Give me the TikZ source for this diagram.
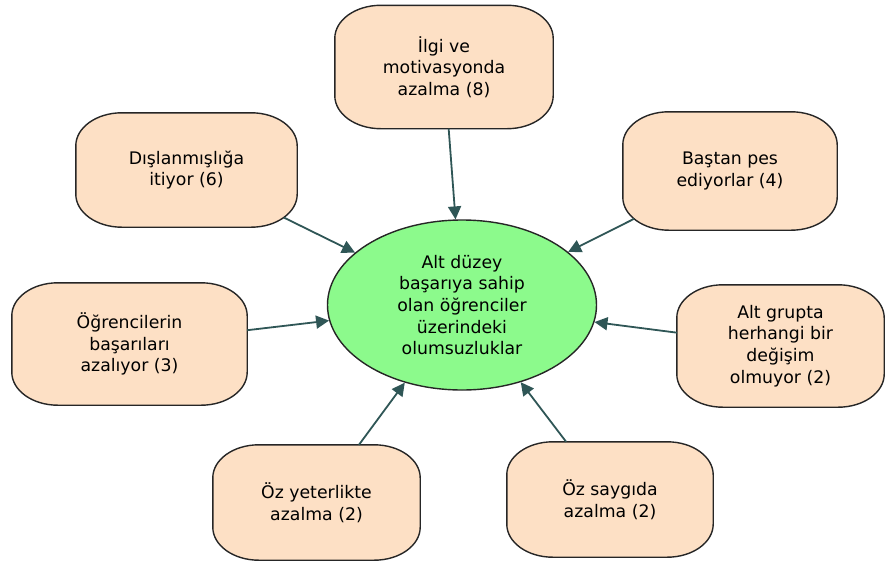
\documentclass[tikz,border=0pt]{standalone}
\usepackage{fontspec}
\setmainfont{DejaVu Sans}
\usetikzlibrary{shapes.geometric,arrows.meta,backgrounds}
\definecolor{boxfill}{RGB}{253,224,197}
\definecolor{ellfill}{RGB}{140,250,140}
\definecolor{arrowcol}{RGB}{47,86,86}
\tikzset{
  causetext/.style={draw=none, fill=none, inner sep=0pt, align=center,
    font=\fontsize{17.3}{21.7}\selectfont},
  causeshape/.style={draw=black!85, line width=1.4pt, fill=boxfill},
  centre/.style={ellipse, draw=black!85, line width=1.4pt, fill=ellfill, inner sep=0pt,
    minimum width=269pt, minimum height=170pt, align=center, font=\fontsize{17.3}{21.7}\selectfont},
  link/.style={draw=arrowcol, line width=1.8pt, -{Triangle[length=13pt,width=13pt]}}
}
% name, x, y, width, height, text
\newcommand{\causebox}[6]{%
  \node[causetext, minimum width=#4, minimum height=#5] (#1) at (#2,#3) {#6};
  \begin{scope}[on background layer]
    \path[causeshape] ([xshift=46pt]#1.north west) -- ([xshift=-46pt]#1.north east)
      arc[start angle=90, end angle=0, x radius=46pt, y radius=33pt]
      -- ([yshift=33pt]#1.south east)
      arc[start angle=0, end angle=-90, x radius=46pt, y radius=33pt]
      -- ([xshift=46pt]#1.south west)
      arc[start angle=270, end angle=180, x radius=46pt, y radius=33pt]
      -- ([yshift=-33pt]#1.north west)
      arc[start angle=180, end angle=90, x radius=46pt, y radius=33pt]
      -- cycle;
  \end{scope}}
\begin{document}
\begin{tikzpicture}[x=1pt,y=-1pt]
\useasboundingbox (0,0) rectangle (886,565);
\node[centre] (c) at (462,305) {Alt düzey\\başarıya sahip\\olan öğrenciler\\üzerindeki\\olumsuzluklar};
\causebox{top}{444}{67}{218pt}{123pt}{İlgi ve\\motivasyonda\\azalma (8)}
\causebox{tl}{186.5}{170}{221pt}{114pt}{Dışlanmışlığa\\itiyor (6)}
\causebox{tr}{730}{171}{214pt}{118pt}{Baştan pes\\ediyorlar (4)}
\causebox{l}{129.5}{344}{235pt}{122pt}{Öğrencilerin\\başarıları\\azalıyor (3)}
\causebox{r}{780.5}{346}{207pt}{122pt}{Alt grupta\\herhangi bir\\değişim\\olmuyor (2)}
\causebox{bl}{316.5}{502.5}{207pt}{115pt}{Öz yeterlikte\\azalma (2)}
\causebox{br}{610}{499.5}{206pt}{115pt}{Öz saygıda\\azalma (2)}
\draw[link] (top) -- (c);
\draw[link, shorten <=-15pt] (tl) -- (c);
\draw[link, shorten <=-12.6pt] (tr) -- (c);
\draw[link] (l) -- (c);
\draw[link] (r) -- (c);
\draw[link] (bl) -- (c);
\draw[link] (br) -- (c);
\end{tikzpicture}
\end{document}
